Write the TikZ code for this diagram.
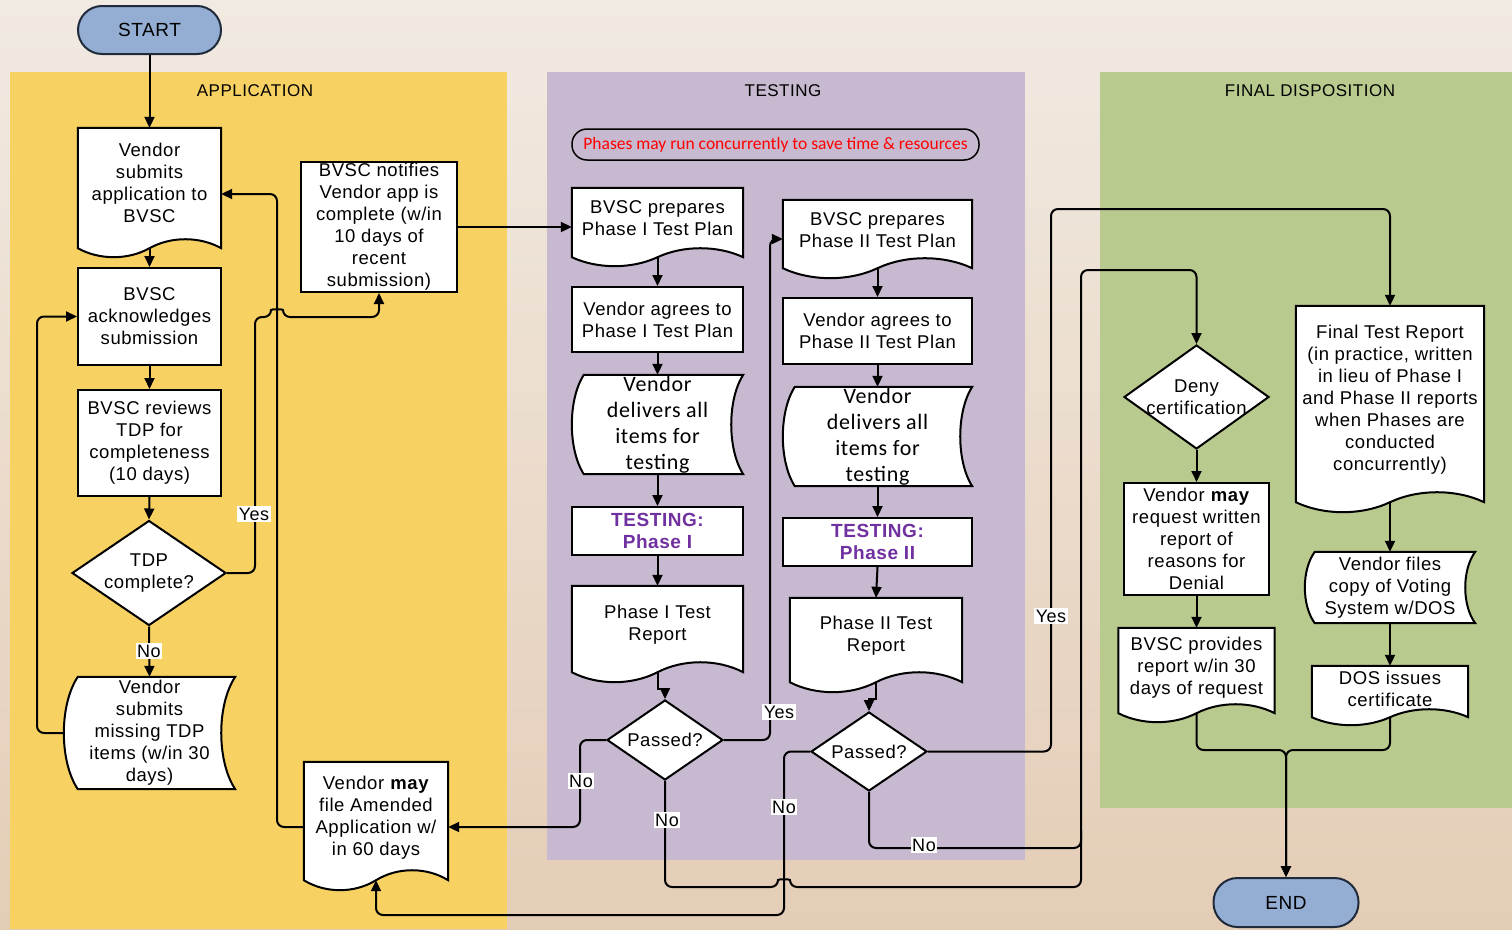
\documentclass[tikz,border=0pt]{standalone}
\usepackage{fontspec}
\setmainfont{Liberation Sans}[LetterSpace=3]
\newfontfamily\carl{Carlito}[LetterSpace=3]
\newfontfamily\carlnote{Carlito}
\usetikzlibrary{shapes.geometric,arrows.meta,calc}
\pgfdeclarelayer{bg}\pgfdeclarelayer{shapes}\pgfsetlayers{bg,shapes,main}
\definecolor{bgtop}{HTML}{F1EAE2}
\definecolor{bgbot}{HTML}{E4CDB6}
\definecolor{laneY}{HTML}{F8D163}
\definecolor{laneP}{HTML}{C7B9CF}
\definecolor{laneG}{HTML}{B9CA8F}
\definecolor{pillc}{HTML}{93ADD3}
\definecolor{pilledge}{HTML}{1F2A3A}
\definecolor{tpurple}{HTML}{7030A0}
\newcommand\lift[2]{\raisebox{#1}[\height][\depth]{\begin{tabular}{@{}c@{}}#2\end{tabular}}}
\newcommand\cl[1]{\makebox[0pt]{#1}}
\newcommand\docpath[2]{%
 \path[fcshape] (#1.north west) -- (#1.north east) -- (#1.south east)
 .. controls ($(#1.south east)!0.15!(#1.south west)+(0,-1.33*#2)$) and ($(#1.south east)!0.35!(#1.south west)+(0,-1.33*#2)$) .. (#1.south)
 .. controls ($(#1.south east)!0.65!(#1.south west)+(0,1.33*#2)$) and ($(#1.south east)!0.85!(#1.south west)+(0,1.33*#2)$) .. (#1.south west) -- cycle;}
\newcommand\storedpath[2]{%
 \path[fcshape] ($(#1.north west)+(#2,0)$) -- (#1.north east)
 .. controls ($(#1.north east)!0.25!(#1.south east)+(-1.33*#2,0)$) and ($(#1.north east)!0.75!(#1.south east)+(-1.33*#2,0)$) .. (#1.south east)
 -- ($(#1.south west)+(#2,0)$)
 .. controls ($(#1.south west)!0.25!(#1.north west)+(-0.33*#2,0)$) and ($(#1.south west)!0.75!(#1.north west)+(-0.33*#2,0)$) .. ($(#1.north west)+(#2,0)$) -- cycle;}
\tikzset{
 every node/.style={font=\fontsize{18.5}{22}\selectfont},
 fcbox/.style={draw, fill=white, line width=2pt, inner sep=0pt, align=center},
 fctxt/.style={inner sep=0pt, align=center},
 fcshape/.style={draw, fill=white, line width=2pt},
 fcdia/.style={diamond, draw, fill=white, line width=2pt, inner sep=0pt, align=center},
 fcpill/.style={draw=pilledge, fill=pillc, line width=2pt, rounded corners=24pt, inner sep=0pt, font=\fontsize{19}{22}\selectfont},
 fcconn/.style={line width=2pt, rounded corners=7pt, -{Triangle[length=11pt,width=10pt]}},
 fclink/.style={line width=2pt, rounded corners=7pt},
 fclbl/.style={fill=white, inner sep=1.5pt, font=\fontsize{18}{20}\selectfont},
 fchead/.style={inner sep=0pt, font=\fontsize{17}{20}\selectfont},
 fctest/.style={fcbox, text=tpurple, font=\fontsize{19}{22}\selectfont\bfseries},
 fcdeliv/.style={fctxt, font=\carl\fontsize{22}{26}\selectfont},
}
\begin{document}
\begin{tikzpicture}[x=1pt,y=-1pt]
\useasboundingbox (0,0) rectangle (1512,929);
\begin{pgfonlayer}{bg}
\fill[top color=bgtop,bottom color=bgbot] (0,0) rectangle (1512,929);
\fill[laneY] (10,72) rectangle (507,929);
\fill[laneP] (547,72) rectangle (1025,860);
\fill[laneG] (1100,72) rectangle (1512,808);
\end{pgfonlayer}

% headings
\node[fchead] (hA) at (255,91) {APPLICATION};
\node[fchead] (hT) at (783,91) {TESTING};
\node[fchead] (hF) at (1310,91) {FINAL DISPOSITION};

% terminals
\node[fcpill, minimum width=143pt, minimum height=48pt] (start) at (149.5,30) {START};
\node[fcpill, minimum width=145pt, minimum height=49pt] (end) at (1286,902.5) {END};

% application lane
\node[fctxt, minimum width=143pt, minimum height=120pt] (n1) at (149.5,188) {\lift{3pt}{Vendor\\submits\\application to\\BVSC}};
\node[fcbox, minimum width=143pt, minimum height=97pt] (n2) at (149.5,316.5) {BVSC\\acknowledges\\submission};
\node[fcbox, minimum width=143pt, minimum height=106pt] (n3) at (149.5,443) {BVSC reviews\\TDP for\\completeness\\(10 days)};
\node[fcdia, minimum width=154pt, minimum height=105pt] (d1) at (149,573) {\cl{TDP}\\\cl{complete?}};
\node[fctxt, minimum width=171pt, minimum height=112pt] (n4) at (149.5,733) {Vendor\\submits\\missing TDP\\items (w/in 30\\days)};
\node[fcbox, minimum width=156pt, minimum height=130pt] (n5) at (379,227) {BVSC notifies\\Vendor app is\\complete (w/in\\10 days of\\recent\\submission)};
\node[fctxt, minimum width=144pt, minimum height=118pt] (n6) at (376,821) {\lift{3pt}{Vendor \textbf{may}\\file Amended\\Application w/\\in 60 days}};

% testing lane
\node[fctxt, draw=black, line width=1.5pt, rounded corners=15pt, minimum width=407pt, minimum height=31pt, text=red, font=\carlnote\fontsize{17.5}{20}\selectfont] (note) at (775.5,144.5) {Phases may run concurrently to save time \& resources};
\node[fctxt, minimum width=171pt, minimum height=69pt] (t1) at (657.5,222.5) {\lift{2pt}{BVSC prepares\\Phase I Test Plan}};
\node[fcbox, minimum width=171pt, minimum height=65pt] (t2) at (657.5,319.5) {Vendor agrees to\\Phase I Test Plan};
\node[fcdeliv, minimum width=171pt, minimum height=99pt] (t3) at (657.5,424.5) {Vendor\\delivers all\\items for\\testing};
\node[fctest, minimum width=171pt, minimum height=48pt] (t4) at (657.5,531) {TESTING:\\Phase I};
\node[fctxt, minimum width=171pt, minimum height=86pt] (t5) at (657.5,629) {\lift{4pt}{Phase I Test\\Report}};
\node[fcdia, minimum width=116pt, minimum height=80pt] (d2) at (665,740) {\cl{Passed?}};

\node[fctxt, minimum width=189pt, minimum height=68pt] (u1) at (877.5,234) {\lift{2pt}{BVSC prepares\\Phase II Test Plan}};
\node[fcbox, minimum width=189pt, minimum height=66pt] (u2) at (877.5,331) {Vendor agrees to\\Phase II Test Plan};
\node[fcdeliv, minimum width=189pt, minimum height=99pt] (u3) at (877.5,436.5) {Vendor\\delivers all\\items for\\testing};
\node[fctest, minimum width=189pt, minimum height=48pt] (u4) at (877.5,542) {TESTING:\\Phase II};
\node[fctxt, minimum width=172pt, minimum height=84pt] (u5) at (876,640) {\lift{4pt}{Phase II Test\\Report}};
\node[fcdia, minimum width=116pt, minimum height=79pt] (d3) at (869,751.5) {\cl{Passed?}};

% final disposition lane
\node[fcdia, minimum width=145pt, minimum height=104pt] (f1) at (1196.5,397) {\cl{Deny}\\\cl{certification}};
\node[fcbox, minimum width=145pt, minimum height=112pt] (f2) at (1196.5,539) {Vendor \textbf{may}\\request written\\report of\\reasons for\\Denial};
\node[fctxt, minimum width=156pt, minimum height=85pt] (f3) at (1196.5,670.5) {\lift{2pt}{BVSC provides\\report w/in 30\\days of request}};
\node[fctxt, minimum width=188pt, minimum height=196pt] (g1) at (1390,404) {\lift{4pt}{Final Test Report\\(in practice, written\\in lieu of Phase I\\and Phase II reports\\when Phases are\\conducted\\concurrently)}};
\node[fctxt, minimum width=170pt, minimum height=71pt] (g2) at (1390,587.5) {Vendor files\\copy of Voting\\System w/DOS};
\node[fctxt, minimum width=156pt, minimum height=51pt] (g3) at (1390,691.5) {\lift{0pt}{DOS issues\\certificate}};

% shape outlines
\begin{pgfonlayer}{shapes}
\docpath{n1}{9}
\docpath{n6}{10}
\docpath{t1}{9}
\docpath{t5}{10}
\docpath{u1}{10}
\docpath{u5}{10}
\docpath{f3}{9}
\docpath{g1}{10}
\docpath{g3}{8}
\storedpath{n4}{14}
\storedpath{t3}{12}
\storedpath{u3}{12}
\storedpath{g2}{10}
\end{pgfonlayer}

% connectors
\draw[fcconn] (start.south) -- (n1.north);
\draw[fcconn] (n1.south) -- (n2.north);
\draw[fcconn] (n2.south) -- (n3.north);
\draw[fcconn] (n3.south) -- (d1.north);
\draw[fcconn] (d1.south) -- (n4.north);
\draw[fcconn] (n4.west) -- (37,733) |- (n2.west);
\draw[fcconn] (d1.east) -- (255,573) -- (255,317) -- (271,317) .. controls (271,309) and (283,309) .. (283,317) -| (n5.south);
\draw[fcconn] ([yshift=-6pt]n6.west) -- (277,827) |- ([yshift=-6pt]n1.east);
\draw[fcconn] (n5.east) -- (n5.east -| t1.west);

\draw[fcconn] (t1.south) -- (t2.north);
\draw[fcconn] (t2.south) -- (t3.north);
\draw[fcconn] (t3.south) -- (t4.north);
\draw[fcconn] (t4.south) -- (t5.north);
\draw[fcconn, sharp corners] (t5.south) -- ++(0,17) -| (d2.north);
\draw[fcconn] (d2.east) -- (770,740) |- ([yshift=-5pt]u1.west);
\draw[fcconn] (d2.west) -- (580,740) |- ([yshift=-6pt]n6.east);
\draw[fcconn] (d2.south) -- (665,887) -- (778,887) .. controls (778,879) and (790,879) .. (790,887) -- (1081,887) -- (1081,270) -| (f1.north);

\draw[fcconn] (u1.south) -- (u2.north);
\draw[fcconn] (u2.south) -- (u3.north);
\draw[fcconn] (u3.south) -- (u4.north);
\draw[fcconn] (u4.south) -- (u5.north);
\draw[fcconn, sharp corners] (u5.south) -- ++(0,17) -| (d3.north);
\draw[fcconn] (d3.east) -- (1051,751.5) -- (1051,209) -| (g1.north);
\draw[fcconn] (d3.west) -- (784,751.5) -- (784,915) -| (n6.south);
\draw[fclink] (d3.south) |- (1081,848) -- (1081,830);

\draw[fcconn] (f1.south) -- (f2.north);
\draw[fcconn] (f2.south) -- (f3.north);
\draw[fcconn] (g1.south) -- (g2.north);
\draw[fcconn] (g2.south) -- (g3.north);
\draw[fcconn] (f3.south) |- (1286,750) -- (end.north);
\draw[fcconn] (g3.south) |- (1286,750) -- (end.north);

% labels
\node[fclbl] (l1) at (254,514) {Yes};
\node[fclbl] (l2) at (149,651) {No};
\node[fclbl] (l3) at (779,712) {Yes};
\node[fclbl] (l4) at (581,781) {No};
\node[fclbl] (l5) at (667,820) {No};
\node[fclbl] (l6) at (784,807) {No};
\node[fclbl] (l7) at (924,845) {No};
\node[fclbl] (l8) at (1051,616) {Yes};
\end{tikzpicture}
\end{document}
